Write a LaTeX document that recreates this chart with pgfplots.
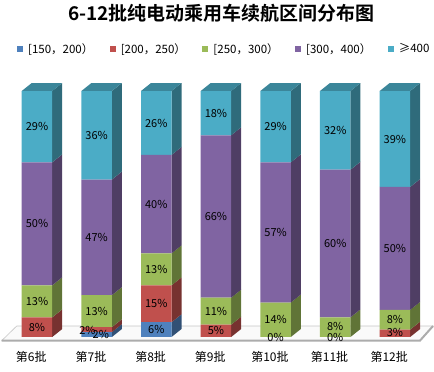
\documentclass[border=0pt]{standalone}
\usepackage{pgfplots}
\pgfplotsset{compat=1.18}
\usepackage{fontspec}
\setmainfont{Noto Sans CJK SC}[BoldFont={Noto Sans CJK SC Bold}]
\definecolor{cA}{HTML}{4F81BD}
\definecolor{cB}{HTML}{C0504D}
\definecolor{cC}{HTML}{9BBB59}
\definecolor{cD}{HTML}{8064A2}
\definecolor{cE}{HTML}{4BACC6}
\tikzset{lab/.style={font=\fontsize{11bp}{13bp}\selectfont, inner sep=0pt},
         cat/.style={font=\fontsize{12bp}{14bp}\selectfont, inner sep=0pt}}
\begin{document}
\begin{tikzpicture}
\pgfplotsset{base/.style={width=434bp,height=372bp,scale only axis,
  xmin=-0.620,xmax=6.656,ymin=-14.23,ymax=137.0,hide axis,clip=false,enlargelimits=false}}
% ---------- background: legend, floor, side and top faces ----------
\begin{axis}[base,
  legend image code/.code={\fill[#1] (0bp,-3bp) rectangle (6bp,3bp); \path[draw=none,fill=none] (0bp,0bp) -- (11bp,0bp);},
  legend columns=5,
  legend style={at={(0.039,0.868)},anchor=west,draw=none,fill=none,inner sep=0pt,
    row sep=0pt,font=\fontsize{11.5bp}{14bp}\selectfont,
    nodes={inner sep=0pt,anchor=west},
    /tikz/every even column/.append style={column sep=16.5bp}},
  unbounded coords=jump]
\addlegendimage{fill=cA,draw=none}\addlegendentry{[150，200）}
\addlegendimage{fill=cB,draw=none}\addlegendentry{[200，250）}
\addlegendimage{fill=cC,draw=none}\addlegendentry{[250，300）}
\addlegendimage{fill=cD,draw=none}\addlegendentry{[300，400）}
\addlegendimage{fill=cE,draw=none}\addlegendentry{≥400}
% floor
\addplot[fill=white!96!gray, draw=gray!45, line width=0.6bp] coordinates
  {(-0.592,-1.5) (-0.340,4.47) (6.64,4.47) (6.42,-1.5) (-0.592,-1.5)};
\addplot[draw=gray!65, line width=2bp] coordinates {(-0.592,-1.5) (6.42,-1.5) (6.64,4.47)};
% side faces
\addplot[fill=cA!62!black, draw=none] coordinates {
 (1.2557,0)(1.4233,3.25)(1.4233,5.25)(1.2557,2) (0,nan)
 (2.2557,0)(2.4233,3.25)(2.4233,9.25)(2.2557,6)};
\addplot[fill=cB!62!black, draw=none] coordinates {
 (0.2557,0)(0.4233,3.25)(0.4233,11.25)(0.2557,8) (0,nan)
 (1.2557,2)(1.4233,5.25)(1.4233,7.25)(1.2557,4) (0,nan)
 (2.2557,6)(2.4233,9.25)(2.4233,24.25)(2.2557,21) (0,nan)
 (3.2557,0)(3.4233,3.25)(3.4233,8.25)(3.2557,5) (0,nan)
 (6.2557,0)(6.4233,3.25)(6.4233,6.25)(6.2557,3)};
\addplot[fill=cC!62!black, draw=none] coordinates {
 (0.2557,8)(0.4233,11.25)(0.4233,24.25)(0.2557,21) (0,nan)
 (1.2557,4)(1.4233,7.25)(1.4233,20.25)(1.2557,17) (0,nan)
 (2.2557,21)(2.4233,24.25)(2.4233,37.25)(2.2557,34) (0,nan)
 (3.2557,5)(3.4233,8.25)(3.4233,19.25)(3.2557,16) (0,nan)
 (4.2557,0)(4.4233,3.25)(4.4233,17.25)(4.2557,14) (0,nan)
 (5.2557,0)(5.4233,3.25)(5.4233,11.25)(5.2557,8) (0,nan)
 (6.2557,3)(6.4233,6.25)(6.4233,14.25)(6.2557,11)};
\addplot[fill=cD!62!black, draw=none] coordinates {
 (0.2557,21)(0.4233,24.25)(0.4233,74.25)(0.2557,71) (0,nan)
 (1.2557,17)(1.4233,20.25)(1.4233,67.25)(1.2557,64) (0,nan)
 (2.2557,34)(2.4233,37.25)(2.4233,77.25)(2.2557,74) (0,nan)
 (3.2557,16)(3.4233,19.25)(3.4233,85.25)(3.2557,82) (0,nan)
 (4.2557,14)(4.4233,17.25)(4.4233,74.25)(4.2557,71) (0,nan)
 (5.2557,8)(5.4233,11.25)(5.4233,71.25)(5.2557,68) (0,nan)
 (6.2557,11)(6.4233,14.25)(6.4233,64.25)(6.2557,61)};
\addplot[fill=cE!62!black, draw=none] coordinates {
 (0.2557,71)(0.4233,74.25)(0.4233,103.25)(0.2557,100) (0,nan)
 (1.2557,64)(1.4233,67.25)(1.4233,103.25)(1.2557,100) (0,nan)
 (2.2557,74)(2.4233,77.25)(2.4233,103.25)(2.2557,100) (0,nan)
 (3.2557,82)(3.4233,85.25)(3.4233,103.25)(3.2557,100) (0,nan)
 (4.2557,71)(4.4233,74.25)(4.4233,103.25)(4.2557,100) (0,nan)
 (5.2557,68)(5.4233,71.25)(5.4233,103.25)(5.2557,100) (0,nan)
 (6.2557,61)(6.4233,64.25)(6.4233,103.25)(6.2557,100)};
% top faces
\addplot[fill=cE!78!black, draw=none] coordinates {
 (-0.2557,100)(-0.0881,103.25)(0.4233,103.25)(0.2557,100) (0,nan)
 (0.7443,100)(0.9119,103.25)(1.4233,103.25)(1.2557,100) (0,nan)
 (1.7443,100)(1.9119,103.25)(2.4233,103.25)(2.2557,100) (0,nan)
 (2.7443,100)(2.9119,103.25)(3.4233,103.25)(3.2557,100) (0,nan)
 (3.7443,100)(3.9119,103.25)(4.4233,103.25)(4.2557,100) (0,nan)
 (4.7443,100)(4.9119,103.25)(5.4233,103.25)(5.2557,100) (0,nan)
 (5.7443,100)(5.9119,103.25)(6.4233,103.25)(6.2557,100)};
\end{axis}
% ---------- front faces ----------
\begin{axis}[base, ybar stacked, bar width=30.5bp]
\addplot[fill=cA, draw=none] coordinates {(0,0) (1,2) (2,6) (3,0) (4,0) (5,0) (6,0)};
\addplot[fill=cB, draw=none] coordinates {(0,8) (1,2) (2,15) (3,5) (4,0) (5,0) (6,3)};
\addplot[fill=cC, draw=none] coordinates {(0,13) (1,13) (2,13) (3,11) (4,14) (5,8) (6,8)};
\addplot[fill=cD, draw=none] coordinates {(0,50) (1,47) (2,40) (3,66) (4,57) (5,60) (6,50)};
\addplot[fill=cE, draw=none] coordinates {(0,29) (1,36) (2,26) (3,18) (4,29) (5,32) (6,39)};
\end{axis}
% ---------- labels ----------
\begin{axis}[base]
\coordinate (bbl) at (rel axis cs:0,0);
\coordinate (btr) at (rel axis cs:1,1);
\node[lab] at (axis cs:0,4) {8\%};
\node[lab] at (axis cs:0,14.5) {13\%};
\node[lab] at (axis cs:0,46) {50\%};
\node[lab] at (axis cs:0,85.5) {29\%};
\node[lab] at (axis cs:1.07,1.1) {2\%};
\node[lab] at (axis cs:0.847,2.85) {2\%};
\node[lab] at (axis cs:1,10.5) {13\%};
\node[lab] at (axis cs:1,40.5) {47\%};
\node[lab] at (axis cs:1,82) {36\%};
\node[lab] at (axis cs:2,3) {6\%};
\node[lab] at (axis cs:2,13.5) {15\%};
\node[lab] at (axis cs:2,27.5) {13\%};
\node[lab] at (axis cs:2,54) {40\%};
\node[lab] at (axis cs:2,87) {26\%};
\node[lab] at (axis cs:3,2.5) {5\%};
\node[lab] at (axis cs:3,10.5) {11\%};
\node[lab] at (axis cs:3,49) {66\%};
\node[lab] at (axis cs:3,91) {18\%};
\node[lab] at (axis cs:4,-0.1) {0\%};
\node[lab] at (axis cs:4,7) {14\%};
\node[lab] at (axis cs:4,42.5) {57\%};
\node[lab] at (axis cs:4,85.5) {29\%};
\node[lab] at (axis cs:5,-0.1) {0\%};
\node[lab] at (axis cs:5,4.2) {8\%};
\node[lab] at (axis cs:5,38) {60\%};
\node[lab] at (axis cs:5,84) {32\%};
\node[lab] at (axis cs:6,1.75) {3\%};
\node[lab] at (axis cs:6,7) {8\%};
\node[lab] at (axis cs:6,36) {50\%};
\node[lab] at (axis cs:6,80.5) {39\%};
\node[cat] at (axis cs:-0.095,-8.13) {第6批};
\node[cat] at (axis cs:0.905,-8.13) {第7批};
\node[cat] at (axis cs:1.905,-8.13) {第8批};
\node[cat] at (axis cs:2.905,-8.13) {第9批};
\node[cat] at (axis cs:3.905,-8.13) {第10批};
\node[cat] at (axis cs:4.905,-8.13) {第11批};
\node[cat] at (axis cs:5.905,-8.13) {第12批};
\node[font=\fontsize{19bp}{21bp}\selectfont\bfseries, inner sep=0pt] at (axis cs:3.093,131.7) {6-12批纯电动乘用车续航区间分布图};
\end{axis}
\pgfresetboundingbox
\path[use as bounding box] (bbl) rectangle (btr);
\end{tikzpicture}
\end{document}
